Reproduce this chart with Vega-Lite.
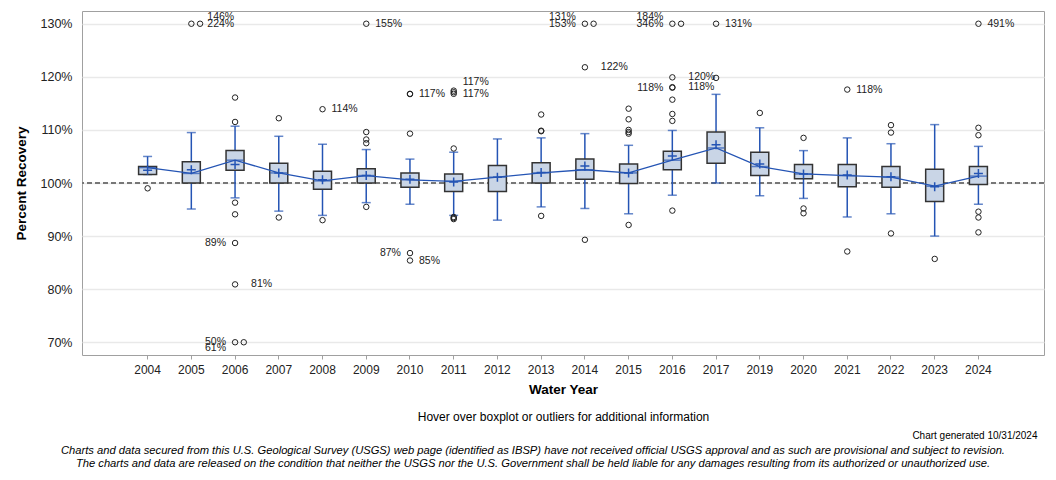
{
  "$schema": "https://vega.github.io/schema/vega-lite/v6.json",
  "width": 962,
  "height": 344,
  "autosize": {"type": "none"},
  "padding": {"left": 82, "top": 11, "right": 12, "bottom": 125},
  "background": "white",
  "config": {
    "font": "Liberation Sans",
    "view": {"stroke": "#a0a0a0", "strokeWidth": 1},
    "axisY": {"grid": true, "gridColor": "#e9e9e9", "gridWidth": 1.5, "domain": false, "ticks": false, "labelPadding": 10, "labelFontSize": 12.5, "labelColor": "#222", "titleFontSize": 13.5, "titleFontWeight": "bold", "titleColor": "#000", "titlePadding": 12}
  },
  "title": {
    "text": ["Charts and data secured from this U.S. Geological Survey (USGS) web page (identified as IBSP) have not received official USGS approval and as such are provisional and subject to revision.", "The charts and data are released on the condition that neither the USGS nor the U.S. Government shall be held liable for any damages resulting from its authorized or unauthorized use."],
    "orient": "bottom", "anchor": "middle", "fontSize": 11.2, "fontStyle": "italic", "fontWeight": "normal", "font": "Liberation Sans", "lineHeight": 13, "offset": 5, "dx": -30, "color": "#000"
  },
  "datasets": {
    "ref": [{"value": 100}],
    "boxes": [
      {"year": "2004", "lo": 101.6, "q1": 101.6, "median": 102.9, "q3": 103.1, "hi": 105.0, "mean": 102.4},
      {"year": "2005", "lo": 95.1, "q1": 100.0, "median": 101.8, "q3": 104.0, "hi": 109.5, "mean": 102.5},
      {"year": "2006", "lo": 97.2, "q1": 102.4, "median": 104.3, "q3": 106.1, "hi": 110.7, "mean": 103.5},
      {"year": "2007", "lo": 94.7, "q1": 100.0, "median": 101.9, "q3": 103.7, "hi": 108.8, "mean": 101.9},
      {"year": "2008", "lo": 93.9, "q1": 98.8, "median": 100.4, "q3": 102.2, "hi": 107.3, "mean": 100.6},
      {"year": "2009", "lo": 96.3, "q1": 100.0, "median": 101.4, "q3": 102.7, "hi": 106.3, "mean": 101.4},
      {"year": "2010", "lo": 96.0, "q1": 99.2, "median": 100.6, "q3": 101.9, "hi": 104.5, "mean": 100.7},
      {"year": "2011", "lo": 93.9, "q1": 98.4, "median": 100.3, "q3": 101.7, "hi": 105.8, "mean": 100.2},
      {"year": "2012", "lo": 93.0, "q1": 98.4, "median": 101.1, "q3": 103.3, "hi": 108.3, "mean": 101.1},
      {"year": "2013", "lo": 95.5, "q1": 100.0, "median": 101.9, "q3": 103.8, "hi": 108.5, "mean": 102.0},
      {"year": "2014", "lo": 95.2, "q1": 100.7, "median": 102.5, "q3": 104.5, "hi": 109.3, "mean": 103.2},
      {"year": "2015", "lo": 94.2, "q1": 99.9, "median": 101.9, "q3": 103.6, "hi": 107.1, "mean": 101.9},
      {"year": "2016", "lo": 97.7, "q1": 102.5, "median": 104.3, "q3": 106.0, "hi": 109.9, "mean": 105.1},
      {"year": "2017", "lo": 100.0, "q1": 103.7, "median": 106.6, "q3": 109.6, "hi": 116.7, "mean": 107.2},
      {"year": "2019", "lo": 97.6, "q1": 101.4, "median": 103.1, "q3": 105.8, "hi": 110.4, "mean": 103.6},
      {"year": "2020", "lo": 97.1, "q1": 100.8, "median": 101.7, "q3": 103.5, "hi": 106.1, "mean": 101.7},
      {"year": "2021", "lo": 93.6, "q1": 99.3, "median": 101.4, "q3": 103.5, "hi": 108.5, "mean": 101.5},
      {"year": "2022", "lo": 94.2, "q1": 99.2, "median": 101.1, "q3": 103.1, "hi": 107.4, "mean": 101.2},
      {"year": "2023", "lo": 90.0, "q1": 96.5, "median": 99.4, "q3": 102.6, "hi": 111.0, "mean": 99.3},
      {"year": "2024", "lo": 96.0, "q1": 99.7, "median": 101.3, "q3": 103.1, "hi": 106.9, "mean": 101.8}
    ],
    "outliers": [
      {"year": "2004", "value": 99.0},
      {"year": "2005", "value": 146}, {"year": "2005", "value": 224},
      {"year": "2006", "value": 116.1}, {"year": "2006", "value": 111.5}, {"year": "2006", "value": 96.3}, {"year": "2006", "value": 94.1}, {"year": "2006", "value": 88.7}, {"year": "2006", "value": 80.9}, {"year": "2006", "value": 50}, {"year": "2006", "value": 61},
      {"year": "2007", "value": 112.2}, {"year": "2007", "value": 93.5},
      {"year": "2008", "value": 113.9}, {"year": "2008", "value": 93.0},
      {"year": "2009", "value": 155}, {"year": "2009", "value": 109.6}, {"year": "2009", "value": 108.2}, {"year": "2009", "value": 107.5}, {"year": "2009", "value": 95.5},
      {"year": "2010", "value": 116.8}, {"year": "2010", "value": 116.75}, {"year": "2010", "value": 109.3}, {"year": "2010", "value": 86.8}, {"year": "2010", "value": 85.4},
      {"year": "2011", "value": 117.4}, {"year": "2011", "value": 117.1}, {"year": "2011", "value": 116.8}, {"year": "2011", "value": 106.5}, {"year": "2011", "value": 93.6}, {"year": "2011", "value": 93.4}, {"year": "2011", "value": 93.2},
      {"year": "2013", "value": 112.9}, {"year": "2013", "value": 109.85}, {"year": "2013", "value": 109.75}, {"year": "2013", "value": 93.8},
      {"year": "2014", "value": 131}, {"year": "2014", "value": 153}, {"year": "2014", "value": 121.8}, {"year": "2014", "value": 89.3},
      {"year": "2015", "value": 114.0}, {"year": "2015", "value": 112.0}, {"year": "2015", "value": 110.0}, {"year": "2015", "value": 109.6}, {"year": "2015", "value": 109.3}, {"year": "2015", "value": 92.1},
      {"year": "2016", "value": 184}, {"year": "2016", "value": 346}, {"year": "2016", "value": 119.9}, {"year": "2016", "value": 118.05}, {"year": "2016", "value": 117.95}, {"year": "2016", "value": 115.7}, {"year": "2016", "value": 113.0}, {"year": "2016", "value": 111.7}, {"year": "2016", "value": 94.8},
      {"year": "2017", "value": 131}, {"year": "2017", "value": 119.8},
      {"year": "2019", "value": 113.2},
      {"year": "2020", "value": 108.5}, {"year": "2020", "value": 95.2}, {"year": "2020", "value": 94.3},
      {"year": "2021", "value": 117.6}, {"year": "2021", "value": 87.1},
      {"year": "2022", "value": 110.9}, {"year": "2022", "value": 109.5}, {"year": "2022", "value": 90.5},
      {"year": "2023", "value": 85.7},
      {"year": "2024", "value": 491}, {"year": "2024", "value": 110.4}, {"year": "2024", "value": 109.0}, {"year": "2024", "value": 94.6}, {"year": "2024", "value": 93.5}, {"year": "2024", "value": 90.7}
    ],
    "lblR": [
      {"year": "2008", "value": 113.9}, {"year": "2009", "value": 155}, {"year": "2010", "value": 116.8}, {"year": "2010", "value": 85.4},
      {"year": "2011", "value": 116.8}, {"year": "2017", "value": 131}, {"year": "2021", "value": 117.6}, {"year": "2024", "value": 491}
    ],
    "lblRU": [{"year": "2011", "value": 117.4}],
    "lblRF": [
      {"year": "2005", "value": 224}, {"year": "2006", "value": 80.9}, {"year": "2014", "value": 121.8}, {"year": "2016", "value": 119.9}, {"year": "2016", "value": 118.05}
    ],
    "lblRFU": [{"year": "2005", "value": 146}],
    "lblL": [
      {"year": "2006", "value": 88.7}, {"year": "2006", "value": 50}, {"year": "2010", "value": 86.8}, {"year": "2014", "value": 153}, {"year": "2016", "value": 346}, {"year": "2016", "value": 117.95}
    ],
    "lblLU": [{"year": "2014", "value": 131}, {"year": "2016", "value": 184}],
    "lblLD": [{"year": "2006", "value": 61}]
  },
  "layer": [
    {
      "layer": [
        {
          "data": {"name": "ref"},
          "mark": {"type": "rule", "strokeDash": [5, 3], "color": "#777777", "strokeWidth": 2},
          "encoding": {"y": {"field": "value", "type": "quantitative", "title": "Percent Recovery"}}
        },
        {
          "data": {"name": "boxes"},
          "mark": {"type": "rule", "color": "#2454b4", "strokeWidth": 1.5},
          "encoding": {
            "x": {"field": "year", "type": "ordinal", "scale": {"type": "band", "paddingInner": 0, "paddingOuter": 1}, "axis": {"orient": "bottom", "title": "Water Year", "labelAngle": 0, "tickSize": 4, "tickColor": "#a0a0a0", "tickWidth": 1, "domain": false, "grid": false, "labelPadding": 5, "labelFontSize": 12, "labelColor": "#222", "titleFontSize": 13.5, "titleFontWeight": "bold", "titleColor": "#000", "titlePadding": 7}},
            "y": {"field": "lo", "type": "quantitative", "title": "Percent Recovery", "scale": {"domain": [67.6, 132.4], "nice": false, "zero": false}, "axis": {"values": [70, 80, 90, 100, 110, 120, 130], "labelExpr": "datum.value + '%'"}},
            "y2": {"field": "hi"}
          }
        },
        {
          "data": {"name": "boxes"},
          "mark": {"type": "tick", "color": "#2454b4", "size": 9, "thickness": 1.5},
          "encoding": {
            "x": {"field": "year", "type": "ordinal", "title": "Water Year"},
            "y": {"field": "lo", "type": "quantitative", "title": "Percent Recovery"}
          }
        },
        {
          "data": {"name": "boxes"},
          "mark": {"type": "tick", "color": "#2454b4", "size": 9, "thickness": 1.5},
          "encoding": {
            "x": {"field": "year", "type": "ordinal", "title": "Water Year"},
            "y": {"field": "hi", "type": "quantitative", "title": "Percent Recovery"}
          }
        },
        {
          "data": {"name": "boxes"},
          "mark": {"type": "bar", "width": 18, "fill": "#c9d5e6", "stroke": "#333333", "strokeWidth": 1.5},
          "encoding": {
            "x": {"field": "year", "type": "ordinal", "title": "Water Year"},
            "y": {"field": "q1", "type": "quantitative", "title": "Percent Recovery"},
            "y2": {"field": "q3"}
          }
        },
        {
          "data": {"name": "boxes"},
          "mark": {"type": "tick", "color": "#2454b4", "size": 17, "thickness": 1.5},
          "encoding": {
            "x": {"field": "year", "type": "ordinal", "title": "Water Year"},
            "y": {"field": "median", "type": "quantitative", "title": "Percent Recovery"}
          }
        },
        {
          "data": {"name": "boxes"},
          "mark": {"type": "line", "color": "#2454b4", "strokeWidth": 1.3},
          "encoding": {
            "x": {"field": "year", "type": "ordinal", "title": "Water Year"},
            "y": {"field": "median", "type": "quantitative", "title": "Percent Recovery"}
          }
        },
        {
          "data": {"name": "boxes"},
          "mark": {"type": "point", "shape": "M-1,0H1M0,-1V1", "size": 81, "filled": false, "stroke": "#2454b4", "strokeWidth": 1.5, "opacity": 1},
          "encoding": {
            "x": {"field": "year", "type": "ordinal", "title": "Water Year"},
            "y": {"field": "mean", "type": "quantitative", "title": "Percent Recovery"}
          }
        },
        {
          "data": {"name": "outliers"},
          "transform": [
            {"calculate": "clamp(datum.value, 70, 130)", "as": "plotted"},
            {"window": [{"op": "row_number", "as": "k"}], "groupby": ["year", "plotted"], "sort": [{"field": "value"}]}
          ],
          "mark": {"type": "point", "shape": "circle", "size": 30, "filled": false, "stroke": "#222222", "strokeWidth": 1, "opacity": 1},
          "encoding": {
            "x": {"field": "year", "type": "ordinal", "title": "Water Year"},
            "xOffset": {"field": "k", "type": "quantitative", "scale": {"domain": [1, 2], "range": [21.9, 30.6]}},
            "y": {"field": "plotted", "type": "quantitative", "title": "Percent Recovery"}
          }
        },
        {
          "data": {"name": "lblR"},
          "transform": [{"calculate": "clamp(datum.value, 70, 130)", "as": "plotted"}, {"calculate": "format(datum.value, '.0f') + '%'", "as": "lbl"}],
          "mark": {"type": "text", "align": "left", "baseline": "middle", "dx": 9, "fontSize": 10.5, "color": "#222"},
          "encoding": {"x": {"field": "year", "type": "ordinal", "title": "Water Year"}, "y": {"field": "plotted", "type": "quantitative", "title": "Percent Recovery"}, "text": {"field": "lbl"}}
        },
        {
          "data": {"name": "lblRU"},
          "transform": [{"calculate": "clamp(datum.value, 70, 130)", "as": "plotted"}, {"calculate": "format(datum.value, '.0f') + '%'", "as": "lbl"}],
          "mark": {"type": "text", "align": "left", "baseline": "middle", "dx": 9, "dy": -9, "fontSize": 10.5, "color": "#222"},
          "encoding": {"x": {"field": "year", "type": "ordinal", "title": "Water Year"}, "y": {"field": "plotted", "type": "quantitative", "title": "Percent Recovery"}, "text": {"field": "lbl"}}
        },
        {
          "data": {"name": "lblRF"},
          "transform": [{"calculate": "clamp(datum.value, 70, 130)", "as": "plotted"}, {"calculate": "format(datum.value, '.0f') + '%'", "as": "lbl"}],
          "mark": {"type": "text", "align": "left", "baseline": "middle", "dx": 16, "fontSize": 10.5, "color": "#222"},
          "encoding": {"x": {"field": "year", "type": "ordinal", "title": "Water Year"}, "y": {"field": "plotted", "type": "quantitative", "title": "Percent Recovery"}, "text": {"field": "lbl"}}
        },
        {
          "data": {"name": "lblRFU"},
          "transform": [{"calculate": "clamp(datum.value, 70, 130)", "as": "plotted"}, {"calculate": "format(datum.value, '.0f') + '%'", "as": "lbl"}],
          "mark": {"type": "text", "align": "left", "baseline": "middle", "dx": 16, "dy": -7, "fontSize": 10.5, "color": "#222"},
          "encoding": {"x": {"field": "year", "type": "ordinal", "title": "Water Year"}, "y": {"field": "plotted", "type": "quantitative", "title": "Percent Recovery"}, "text": {"field": "lbl"}}
        },
        {
          "data": {"name": "lblL"},
          "transform": [{"calculate": "clamp(datum.value, 70, 130)", "as": "plotted"}, {"calculate": "format(datum.value, '.0f') + '%'", "as": "lbl"}],
          "mark": {"type": "text", "align": "right", "baseline": "middle", "dx": -9, "fontSize": 10.5, "color": "#222"},
          "encoding": {"x": {"field": "year", "type": "ordinal", "title": "Water Year"}, "y": {"field": "plotted", "type": "quantitative", "title": "Percent Recovery"}, "text": {"field": "lbl"}}
        },
        {
          "data": {"name": "lblLU"},
          "transform": [{"calculate": "clamp(datum.value, 70, 130)", "as": "plotted"}, {"calculate": "format(datum.value, '.0f') + '%'", "as": "lbl"}],
          "mark": {"type": "text", "align": "right", "baseline": "middle", "dx": -9, "dy": -7, "fontSize": 10.5, "color": "#222"},
          "encoding": {"x": {"field": "year", "type": "ordinal", "title": "Water Year"}, "y": {"field": "plotted", "type": "quantitative", "title": "Percent Recovery"}, "text": {"field": "lbl"}}
        },
        {
          "data": {"name": "lblLD"},
          "transform": [{"calculate": "clamp(datum.value, 70, 130)", "as": "plotted"}, {"calculate": "format(datum.value, '.0f') + '%'", "as": "lbl"}],
          "mark": {"type": "text", "align": "right", "baseline": "middle", "dx": -9, "dy": 6, "fontSize": 10.5, "color": "#222"},
          "encoding": {"x": {"field": "year", "type": "ordinal", "title": "Water Year"}, "y": {"field": "plotted", "type": "quantitative", "title": "Percent Recovery"}, "text": {"field": "lbl"}}
        }
      ]
    },
    {
      "data": {"name": "boxes"},
      "mark": {"type": "point", "opacity": 0},
      "encoding": {
        "x": {"field": "year", "type": "ordinal", "axis": {"orient": "bottom", "title": "Hover over boxplot or outliers for additional information", "labels": false, "ticks": false, "domain": false, "grid": false, "titleFontWeight": "normal", "titleFontSize": 12, "titleColor": "#000", "titlePadding": 56}}
      }
    },
    {
      "data": {"name": "boxes"},
      "mark": {"type": "point", "opacity": 0},
      "encoding": {
        "x": {"field": "year", "type": "ordinal", "axis": {"orient": "bottom", "title": "Chart generated 10/31/2024", "labels": false, "ticks": false, "domain": false, "grid": false, "titleFontWeight": "normal", "titleFontSize": 10, "titleColor": "#000", "titlePadding": 75, "titleAnchor": "end", "titleAlign": "right", "titleX": 955}}
      }
    }
  ],
  "resolve": {"scale": {"x": "independent"}}
}
